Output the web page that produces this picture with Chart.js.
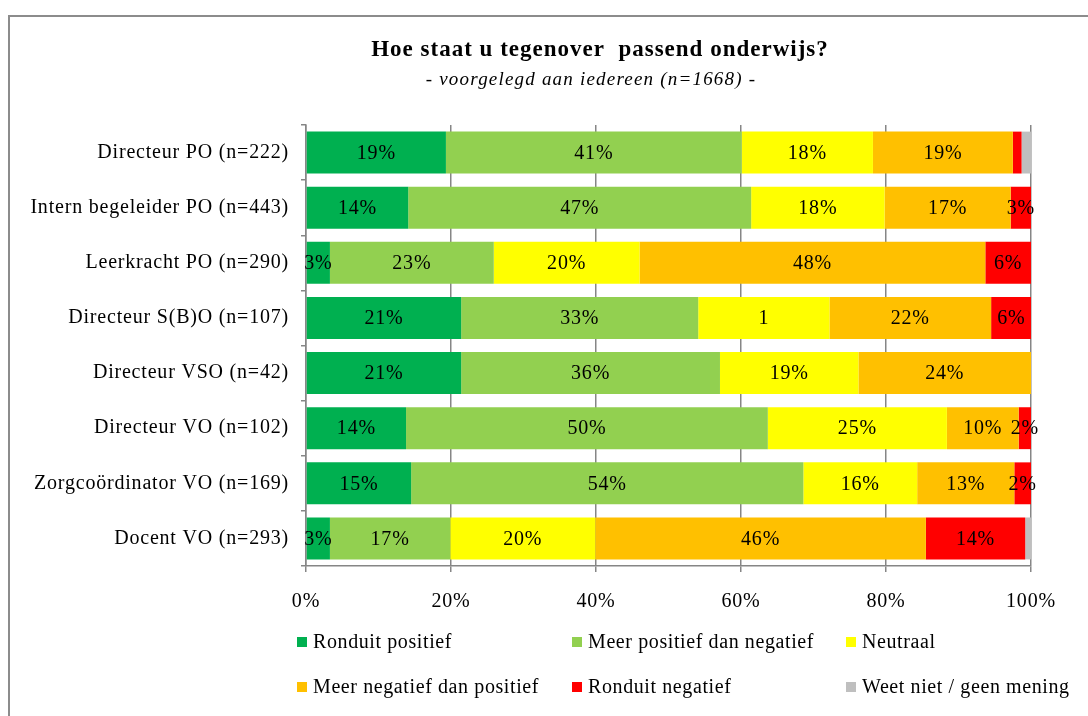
<!DOCTYPE html>
<html>
<head>
<meta charset="utf-8">
<script src="https://cdn.jsdelivr.net/npm/chart.js@4/dist/chart.umd.min.js"></script>
<style>
  body { margin: 0; background: #fff; }
  #wrap { position: relative; width: 1088px; height: 716px; overflow: hidden; }
  #frame {
    position: absolute; left: 8px; top: 15px; width: 1200px; height: 800px;
    border-top: 2px solid #8c8c8c; border-left: 2px solid #8c8c8c;
  }
  #box { position: absolute; left: 0; top: 0; width: 1088px; height: 716px; }
  #legend {
    position: absolute; left: 297px; top: 619px;
    display: grid; grid-template-columns: 275px 274px 240px; grid-auto-rows: 45px;
    font-family: "Liberation Serif", serif; font-size: 20px; letter-spacing: 0.6px; color: #000;
  }
  #legend div { display: flex; align-items: center; white-space: nowrap; }
  #legend span.sw { width: 10px; height: 10px; margin-right: 6px; display: inline-block; }
</style>
</head>
<body>
<div id="wrap">
  <div id="frame"></div>
  <div id="box"><canvas id="chart"></canvas></div>
  <div id="legend"></div>
</div>
<script>
// Categories (top to bottom)
const categories = [
  'Directeur PO (n=222)',
  'Intern begeleider PO (n=443)',
  'Leerkracht PO (n=290)',
  'Directeur S(B)O (n=107)',
  'Directeur VSO (n=42)',
  'Directeur VO (n=102)',
  'Zorgcoördinator VO (n=169)',
  'Docent VO (n=293)'
];

// Series names and colours
const seriesNames = [
  'Ronduit positief',
  'Meer positief dan negatief',
  'Neutraal',
  'Meer negatief dan positief',
  'Ronduit negatief',
  'Weet niet / geen mening'
];
const seriesColors = ['#00b050', '#92d050', '#ffff00', '#ffc000', '#ff0000', '#bfbfbf'];

// Percentages per series
const ronduitPositief  = [19.3, 14.1,  3.3, 21.4, 21.4, 13.8, 14.5,  3.3];
const meerPositief     = [40.8, 47.3, 22.6, 32.7, 35.7, 49.9, 54.1, 16.6];
const neutraal         = [18.1, 18.4, 20.1, 18.1, 19.1, 24.7, 15.7, 20.0];
const meerNegatief     = [19.3, 17.4, 47.7, 22.3, 23.8,  9.9, 13.4, 45.6];
const ronduitNegatief  = [ 1.2,  2.8,  6.3,  5.6,  0.0,  1.7,  2.3, 13.7];
const weetNiet         = [ 1.3,  0.0,  0.0,  0.0,  0.0,  0.0,  0.0,  0.8];

const xTicks = [0, 20, 40, 60, 80, 100];

// the source chart cut one label short
const labelOverrides = { '2-3': '1' };

const seriesData = [ronduitPositief, meerPositief, neutraal, meerNegatief, ronduitNegatief, weetNiet];

const FONT = '"Liberation Serif", serif';
const GRID = '#868686';

// wider spacing, closer to the Palatino look of the original
const spacing = {
  id: 'spacing',
  beforeDraw(chart) { chart.ctx.letterSpacing = '0.8px'; }
};

// Title + subtitle
const titlePlugin = {
  id: 'titles',
  afterDraw(chart) {
    const ctx = chart.ctx;
    ctx.save();
    ctx.fillStyle = '#000';
    ctx.textAlign = 'center';
    ctx.textBaseline = 'middle';
    ctx.letterSpacing = '1px';
    ctx.font = 'bold 23px ' + FONT;
    ctx.fillText('Hoe staat u tegenover  passend onderwijs?', 600, 50);
    ctx.letterSpacing = '1.2px';
    ctx.font = 'italic 19px ' + FONT;
    ctx.fillText('- voorgelegd aan iedereen (n=1668) -', 591, 80);
    ctx.restore();
  }
};

// Percent labels inside the bars
const barLabels = {
  id: 'barLabels',
  afterDatasetsDraw(chart) {
    const ctx = chart.ctx;
    ctx.save();
    ctx.fillStyle = '#000';
    ctx.font = '20px ' + FONT;
    ctx.textAlign = 'center';
    ctx.textBaseline = 'middle';
    chart.data.datasets.forEach(function(ds, di) {
      const meta = chart.getDatasetMeta(di);
      meta.data.forEach(function(bar, i) {
        const v = ds.data[i];
        if (v < 1.5) return;
        const key = di + '-' + i;
        const text = labelOverrides[key] || Math.round(v) + '%';
        const p = bar.getCenterPoint();
        ctx.fillText(text, p.x, p.y + 1);
      });
    });
    ctx.restore();
  }
};

new Chart(document.getElementById('chart'), {
  type: 'bar',
  data: {
    labels: categories,
    datasets: seriesNames.map(function(name, i) {
      return {
        label: name,
        data: seriesData[i],
        backgroundColor: seriesColors[i],
        borderWidth: 0,
        categoryPercentage: 1,
        barPercentage: 0.76
      };
    })
  },
  options: {
    indexAxis: 'y',
    responsive: true,
    maintainAspectRatio: false,
    animation: false,
    layout: { padding: { top: 125, right: 57, bottom: 100, left: 0 } },
    plugins: {
      legend: { display: false },
      tooltip: { enabled: false }
    },
    scales: {
      x: {
        stacked: true,
        min: 0,
        max: 100,
        afterBuildTicks: function(scale) {
          scale.ticks = xTicks.map(function(v) { return { value: v }; });
        },
        afterFit: function(scale) { scale.height = 50; },
        ticks: {
          callback: function(v) { return v + '%'; },
          color: '#000',
          font: { family: FONT, size: 20 },
          padding: 18,
          maxRotation: 0
        },
        grid: { color: GRID, lineWidth: 1.5, tickLength: 6 },
        border: { color: GRID, width: 1.5 }
      },
      y: {
        stacked: true,
        afterFit: function(scale) { scale.width = 306; },
        ticks: {
          color: '#000',
          font: { family: FONT, size: 20 },
          padding: 12
        },
        grid: { drawOnChartArea: false, color: GRID, lineWidth: 1.5, tickLength: 5 },
        border: { color: GRID, width: 1.5 }
      }
    }
  },
  plugins: [spacing, titlePlugin, barLabels]
});

// HTML legend, same order as the source
const legend = document.getElementById('legend');
seriesNames.forEach(function(name, i) {
  const item = document.createElement('div');
  item.innerHTML = '<span class="sw" style="background:' + seriesColors[i] + '"></span>' + name;
  legend.appendChild(item);
});
</script>
</body>
</html>
